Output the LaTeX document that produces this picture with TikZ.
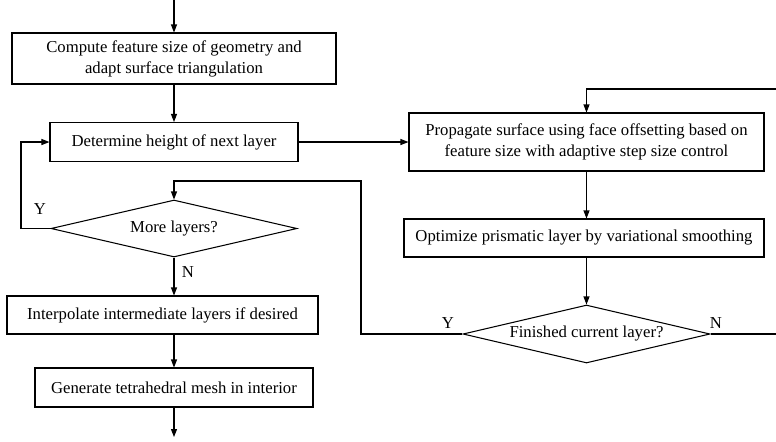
\documentclass[tikz,border=0pt]{standalone}
\usepackage{fontspec}
\setmainfont{Liberation Serif}
\usetikzlibrary{arrows.meta,positioning,shapes.geometric}

\begin{document}
\begin{tikzpicture}[font=\fontsize{9.5}{11.9}\selectfont,line width=0.6pt,
  box/.style={draw,rectangle,align=center,inner sep=0pt},
  decide/.style={draw,diamond,aspect=4,inner sep=0pt},
  arr/.style={-{Triangle[length=1.6mm,width=1.2mm]}}]
\useasboundingbox (0,0) rectangle (15.52,-8.82);
% left column
\node[box,minimum width=6.48cm,minimum height=1.02cm] (feature) at (3.48,-1.17) {Compute feature size of geometry and\\adapt surface triangulation};
\node[box,minimum width=4.96cm,minimum height=0.78cm] (height) at (3.48,-2.84) {Determine height of next layer};
\node[decide,minimum width=4.92cm,minimum height=1.14cm] (more) at (3.48,-4.57) {More layers?};
\node[box,minimum width=6.22cm,minimum height=0.76cm] (interp) at (3.25,-6.30) {Interpolate intermediate layers if desired};
\node[box,minimum width=5.56cm,minimum height=0.78cm] (tetra) at (3.48,-7.75) {Generate tetrahedral mesh in interior};
% right column
\node[box,minimum width=7.10cm,minimum height=1.16cm] (propagate) at (11.73,-2.84) {Propagate surface using face offsetting based on\\feature size with adaptive step size control};
\node[box,minimum width=7.20cm,minimum height=0.76cm] (smooth) at (11.68,-4.76) {Optimize prismatic layer by variational smoothing};
\node[decide,minimum width=4.94cm,minimum height=1.16cm] (finished) at (11.73,-6.68) {Finished current layer?};
% free ends and corners
\coordinate (start) at (3.48,0);
\coordinate (stop) at (3.48,-8.74);
\coordinate (loopin) at (15.52,-1.78);
\coordinate (loopout) at (15.52,-6.68);
\coordinate (back) at (7.22,-3.62);
\coordinate (yleft) at (0.42,-2.84);
% connectors
\draw[arr] (start) -- (feature.north);
\draw[arr] (feature.south) -- (height.north);
\draw[arr] (height.east) -- (height.east -| propagate.west);
\draw[arr] (loopin) -| (propagate.north);
\draw[arr] (propagate.south) -- (propagate.south |- smooth.north);
\draw[arr] (propagate.south |- smooth.south) -- (finished.north);
\draw (finished.east) -- (loopout);
\draw[arr] (finished.west) -| (back) -| (more.north);
\draw[arr] (more.west) -| (yleft) -- (height.west);
\draw[arr] (more.south) -- (more.south |- interp.north);
\draw[arr] (tetra.north |- interp.south) -- (tetra.north);
\draw[arr] (tetra.south) -- (stop);
% labels
\node (ymore) at (0.80,-4.18) {Y};
\node (nmore) at (3.76,-5.44) {N};
\node (yfin) at (8.96,-6.46) {Y};
\node (nfin) at (14.32,-6.46) {N};
\end{tikzpicture}
\end{document}
